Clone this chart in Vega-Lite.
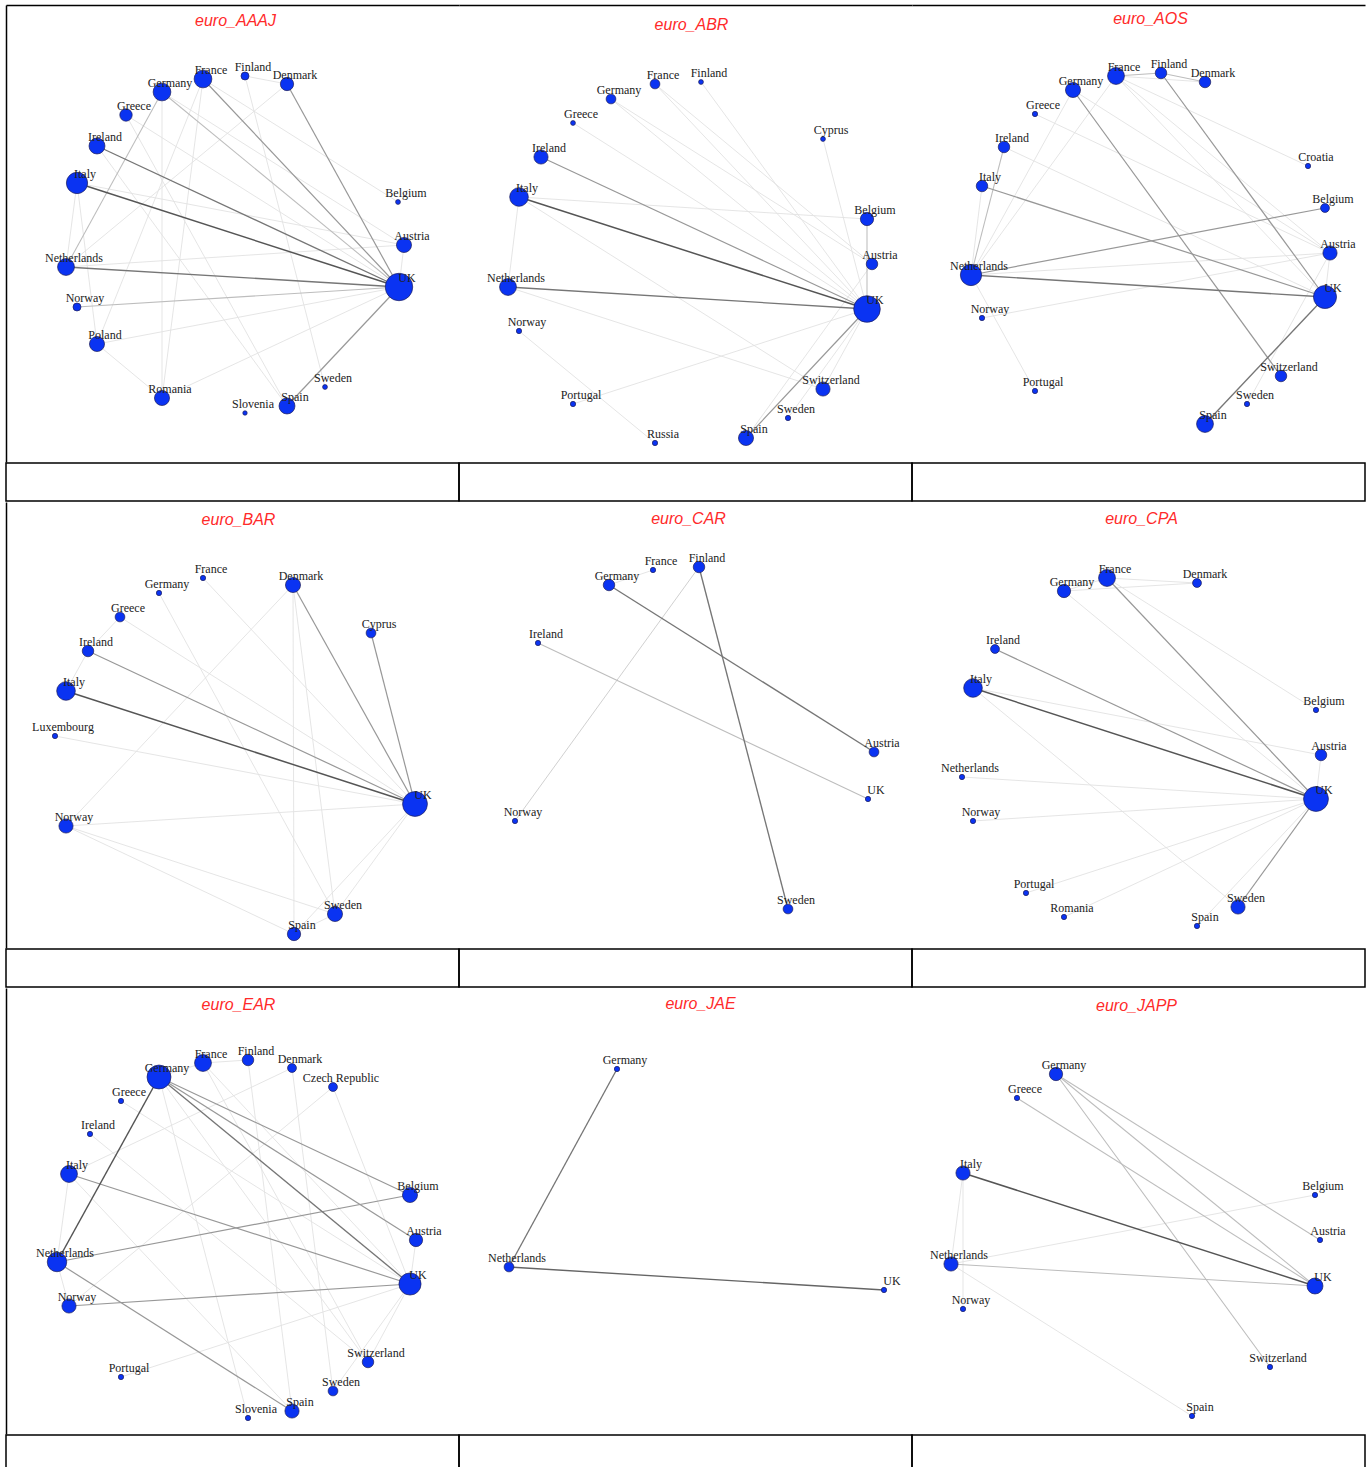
{
"$schema":"https://vega.github.io/schema/vega-lite/v6.json",
"padding":{"left":5,"top":5,"right":3,"bottom":0},
"background":"white",
"config":{"view":{"stroke":null},"concat":{"spacing":0},
"axis":{"ticks":false,"labels":false,"grid":false,"minExtent":0,"maxExtent":0,"domainColor":"black","domainWidth":1.5,"titleColor":"#ff2a2a","titleFont":"Liberation Sans","titleFontStyle":"italic","titleFontWeight":"normal","titleFontSize":16,"titleBaseline":"middle","titleAlign":"center","titleAngle":0}},
"datasets":{
"nodes":[
{"p":"AAAJ","n":"France","id":"AAAJ|France","x":197,"y":74,"d":20},
{"p":"AAAJ","n":"Finland","id":"AAAJ|Finland","x":239,"y":71,"d":9},
{"p":"AAAJ","n":"Denmark","id":"AAAJ|Denmark","x":281,"y":79,"d":15},
{"p":"AAAJ","n":"Germany","id":"AAAJ|Germany","x":156,"y":87,"d":20},
{"p":"AAAJ","n":"Greece","id":"AAAJ|Greece","x":120,"y":110,"d":14},
{"p":"AAAJ","n":"Ireland","id":"AAAJ|Ireland","x":91,"y":141,"d":18},
{"p":"AAAJ","n":"Italy","id":"AAAJ|Italy","x":71,"y":178,"d":24},
{"p":"AAAJ","n":"Belgium","id":"AAAJ|Belgium","x":392,"y":197,"d":5.5},
{"p":"AAAJ","n":"Austria","id":"AAAJ|Austria","x":398,"y":240,"d":17},
{"p":"AAAJ","n":"Netherlands","id":"AAAJ|Netherlands","x":60,"y":262,"d":19},
{"p":"AAAJ","n":"UK","id":"AAAJ|UK","x":393,"y":282,"d":31},
{"p":"AAAJ","n":"Norway","id":"AAAJ|Norway","x":71,"y":302,"d":9},
{"p":"AAAJ","n":"Poland","id":"AAAJ|Poland","x":91,"y":339,"d":17},
{"p":"AAAJ","n":"Romania","id":"AAAJ|Romania","x":156,"y":393,"d":17},
{"p":"AAAJ","n":"Sweden","id":"AAAJ|Sweden","x":319,"y":382,"d":5.5},
{"p":"AAAJ","n":"Slovenia","id":"AAAJ|Slovenia","x":239,"y":408,"d":5},
{"p":"AAAJ","n":"Spain","id":"AAAJ|Spain","x":281,"y":401,"d":18},

{"p":"ABR","n":"France","id":"ABR|France","x":196,"y":79,"d":11},
{"p":"ABR","n":"Finland","id":"ABR|Finland","x":242,"y":77,"d":5.5},
{"p":"ABR","n":"Germany","id":"ABR|Germany","x":152,"y":94,"d":11},
{"p":"ABR","n":"Greece","id":"ABR|Greece","x":114,"y":118,"d":5.5},
{"p":"ABR","n":"Cyprus","id":"ABR|Cyprus","x":364,"y":134,"d":5.5},
{"p":"ABR","n":"Ireland","id":"ABR|Ireland","x":82,"y":152,"d":16},
{"p":"ABR","n":"Italy","id":"ABR|Italy","x":60,"y":192,"d":21},
{"p":"ABR","n":"Belgium","id":"ABR|Belgium","x":408,"y":214,"d":15},
{"p":"ABR","n":"Austria","id":"ABR|Austria","x":413,"y":259,"d":13},
{"p":"ABR","n":"Netherlands","id":"ABR|Netherlands","x":49,"y":282,"d":19},
{"p":"ABR","n":"UK","id":"ABR|UK","x":408,"y":304,"d":30},
{"p":"ABR","n":"Norway","id":"ABR|Norway","x":60,"y":326,"d":6},
{"p":"ABR","n":"Switzerland","id":"ABR|Switzerland","x":364,"y":384,"d":16},
{"p":"ABR","n":"Portugal","id":"ABR|Portugal","x":114,"y":399,"d":6},
{"p":"ABR","n":"Sweden","id":"ABR|Sweden","x":329,"y":413,"d":6},
{"p":"ABR","n":"Russia","id":"ABR|Russia","x":196,"y":438,"d":6},
{"p":"ABR","n":"Spain","id":"ABR|Spain","x":287,"y":433,"d":17},

{"p":"AOS","n":"France","id":"AOS|France","x":204,"y":71,"d":19},
{"p":"AOS","n":"Finland","id":"AOS|Finland","x":249,"y":68,"d":13},
{"p":"AOS","n":"Denmark","id":"AOS|Denmark","x":293,"y":77,"d":13},
{"p":"AOS","n":"Germany","id":"AOS|Germany","x":161,"y":85,"d":17},
{"p":"AOS","n":"Greece","id":"AOS|Greece","x":123,"y":109,"d":6},
{"p":"AOS","n":"Ireland","id":"AOS|Ireland","x":92,"y":142,"d":13},
{"p":"AOS","n":"Italy","id":"AOS|Italy","x":70,"y":181,"d":13},
{"p":"AOS","n":"Croatia","id":"AOS|Croatia","x":396,"y":161,"d":6},
{"p":"AOS","n":"Belgium","id":"AOS|Belgium","x":413,"y":203,"d":10},
{"p":"AOS","n":"Austria","id":"AOS|Austria","x":418,"y":248,"d":16},
{"p":"AOS","n":"Netherlands","id":"AOS|Netherlands","x":59,"y":270,"d":24},
{"p":"AOS","n":"UK","id":"AOS|UK","x":413,"y":292,"d":26},
{"p":"AOS","n":"Norway","id":"AOS|Norway","x":70,"y":313,"d":6},
{"p":"AOS","n":"Switzerland","id":"AOS|Switzerland","x":369,"y":371,"d":13},
{"p":"AOS","n":"Portugal","id":"AOS|Portugal","x":123,"y":386,"d":6},
{"p":"AOS","n":"Sweden","id":"AOS|Sweden","x":335,"y":399,"d":6},
{"p":"AOS","n":"Spain","id":"AOS|Spain","x":293,"y":419,"d":19},

{"p":"BAR","n":"France","id":"BAR|France","x":197,"y":76,"d":6},
{"p":"BAR","n":"Germany","id":"BAR|Germany","x":153,"y":91,"d":6},
{"p":"BAR","n":"Denmark","id":"BAR|Denmark","x":287,"y":83,"d":17},
{"p":"BAR","n":"Greece","id":"BAR|Greece","x":114,"y":115,"d":11},
{"p":"BAR","n":"Cyprus","id":"BAR|Cyprus","x":365,"y":131,"d":11},
{"p":"BAR","n":"Ireland","id":"BAR|Ireland","x":82,"y":149,"d":13},
{"p":"BAR","n":"Italy","id":"BAR|Italy","x":60,"y":189,"d":21},
{"p":"BAR","n":"Luxembourg","id":"BAR|Luxembourg","x":49,"y":234,"d":6},
{"p":"BAR","n":"UK","id":"BAR|UK","x":409,"y":302,"d":28},
{"p":"BAR","n":"Norway","id":"BAR|Norway","x":60,"y":324,"d":16},
{"p":"BAR","n":"Sweden","id":"BAR|Sweden","x":329,"y":412,"d":17},
{"p":"BAR","n":"Spain","id":"BAR|Spain","x":288,"y":432,"d":15},

{"p":"CAR","n":"France","id":"CAR|France","x":194,"y":68,"d":6},
{"p":"CAR","n":"Finland","id":"CAR|Finland","x":240,"y":65,"d":13},
{"p":"CAR","n":"Germany","id":"CAR|Germany","x":150,"y":83,"d":13},
{"p":"CAR","n":"Ireland","id":"CAR|Ireland","x":79,"y":141,"d":6},
{"p":"CAR","n":"Austria","id":"CAR|Austria","x":415,"y":250,"d":11},
{"p":"CAR","n":"UK","id":"CAR|UK","x":409,"y":297,"d":6},
{"p":"CAR","n":"Norway","id":"CAR|Norway","x":56,"y":319,"d":6},
{"p":"CAR","n":"Sweden","id":"CAR|Sweden","x":329,"y":407,"d":11},

{"p":"CPA","n":"France","id":"CPA|France","x":195,"y":76,"d":19},
{"p":"CPA","n":"Germany","id":"CPA|Germany","x":152,"y":89,"d":15},
{"p":"CPA","n":"Denmark","id":"CPA|Denmark","x":285,"y":81,"d":10},
{"p":"CPA","n":"Ireland","id":"CPA|Ireland","x":83,"y":147,"d":10},
{"p":"CPA","n":"Italy","id":"CPA|Italy","x":61,"y":186,"d":21},
{"p":"CPA","n":"Belgium","id":"CPA|Belgium","x":404,"y":208,"d":6},
{"p":"CPA","n":"Austria","id":"CPA|Austria","x":409,"y":253,"d":13},
{"p":"CPA","n":"Netherlands","id":"CPA|Netherlands","x":50,"y":275,"d":6},
{"p":"CPA","n":"UK","id":"CPA|UK","x":404,"y":297,"d":28},
{"p":"CPA","n":"Norway","id":"CPA|Norway","x":61,"y":319,"d":6},
{"p":"CPA","n":"Portugal","id":"CPA|Portugal","x":114,"y":391,"d":6},
{"p":"CPA","n":"Romania","id":"CPA|Romania","x":152,"y":415,"d":6},
{"p":"CPA","n":"Sweden","id":"CPA|Sweden","x":326,"y":405,"d":16},
{"p":"CPA","n":"Spain","id":"CPA|Spain","x":285,"y":424,"d":6},

{"p":"EAR","n":"France","id":"EAR|France","x":197,"y":75,"d":19},
{"p":"EAR","n":"Finland","id":"EAR|Finland","x":242,"y":72,"d":13},
{"p":"EAR","n":"Denmark","id":"EAR|Denmark","x":286,"y":80,"d":10},
{"p":"EAR","n":"Czech Republic","id":"EAR|Czech Republic","x":327,"y":99,"d":10},
{"p":"EAR","n":"Germany","id":"EAR|Germany","x":153,"y":89,"d":27},
{"p":"EAR","n":"Greece","id":"EAR|Greece","x":115,"y":113,"d":6},
{"p":"EAR","n":"Ireland","id":"EAR|Ireland","x":84,"y":146,"d":6},
{"p":"EAR","n":"Italy","id":"EAR|Italy","x":63,"y":186,"d":19},
{"p":"EAR","n":"Belgium","id":"EAR|Belgium","x":404,"y":207,"d":17},
{"p":"EAR","n":"Austria","id":"EAR|Austria","x":410,"y":252,"d":15},
{"p":"EAR","n":"Netherlands","id":"EAR|Netherlands","x":51,"y":274,"d":22},
{"p":"EAR","n":"UK","id":"EAR|UK","x":404,"y":296,"d":25},
{"p":"EAR","n":"Norway","id":"EAR|Norway","x":63,"y":318,"d":16},
{"p":"EAR","n":"Switzerland","id":"EAR|Switzerland","x":362,"y":374,"d":13},
{"p":"EAR","n":"Portugal","id":"EAR|Portugal","x":115,"y":389,"d":6},
{"p":"EAR","n":"Sweden","id":"EAR|Sweden","x":327,"y":403,"d":11},
{"p":"EAR","n":"Slovenia","id":"EAR|Slovenia","x":242,"y":430,"d":6},
{"p":"EAR","n":"Spain","id":"EAR|Spain","x":286,"y":423,"d":16},

{"p":"JAE","n":"Germany","id":"JAE|Germany","x":158,"y":81,"d":6},
{"p":"JAE","n":"Netherlands","id":"JAE|Netherlands","x":50,"y":279,"d":11},
{"p":"JAE","n":"UK","id":"JAE|UK","x":425,"y":302,"d":6},

{"p":"JAPP","n":"Germany","id":"JAPP|Germany","x":144,"y":86,"d":15},
{"p":"JAPP","n":"Greece","id":"JAPP|Greece","x":105,"y":110,"d":6},
{"p":"JAPP","n":"Italy","id":"JAPP|Italy","x":51,"y":185,"d":16},
{"p":"JAPP","n":"Belgium","id":"JAPP|Belgium","x":403,"y":207,"d":6},
{"p":"JAPP","n":"Austria","id":"JAPP|Austria","x":408,"y":252,"d":6},
{"p":"JAPP","n":"Netherlands","id":"JAPP|Netherlands","x":39,"y":276,"d":16},
{"p":"JAPP","n":"UK","id":"JAPP|UK","x":403,"y":298,"d":18},
{"p":"JAPP","n":"Norway","id":"JAPP|Norway","x":51,"y":321,"d":6},
{"p":"JAPP","n":"Switzerland","id":"JAPP|Switzerland","x":358,"y":379,"d":6},
{"p":"JAPP","n":"Spain","id":"JAPP|Spain","x":280,"y":428,"d":6}
],
"edges":[
{"p":"AAAJ","s":"AAAJ|Germany","t":"AAAJ|Romania","w":1},
{"p":"AAAJ","s":"AAAJ|France","t":"AAAJ|Romania","w":1},
{"p":"AAAJ","s":"AAAJ|France","t":"AAAJ|Poland","w":1},
{"p":"AAAJ","s":"AAAJ|Denmark","t":"AAAJ|Netherlands","w":1},
{"p":"AAAJ","s":"AAAJ|Finland","t":"AAAJ|Sweden","w":1},
{"p":"AAAJ","s":"AAAJ|Finland","t":"AAAJ|Denmark","w":1},
{"p":"AAAJ","s":"AAAJ|Greece","t":"AAAJ|Spain","w":1},
{"p":"AAAJ","s":"AAAJ|Ireland","t":"AAAJ|Spain","w":1},
{"p":"AAAJ","s":"AAAJ|Italy","t":"AAAJ|Austria","w":1},
{"p":"AAAJ","s":"AAAJ|Italy","t":"AAAJ|Poland","w":1},
{"p":"AAAJ","s":"AAAJ|Poland","t":"AAAJ|UK","w":1},
{"p":"AAAJ","s":"AAAJ|Romania","t":"AAAJ|UK","w":1},
{"p":"AAAJ","s":"AAAJ|Poland","t":"AAAJ|Romania","w":1},
{"p":"AAAJ","s":"AAAJ|Greece","t":"AAAJ|UK","w":1},
{"p":"AAAJ","s":"AAAJ|France","t":"AAAJ|Belgium","w":1},
{"p":"AAAJ","s":"AAAJ|Austria","t":"AAAJ|UK","w":1},
{"p":"AAAJ","s":"AAAJ|Netherlands","t":"AAAJ|Austria","w":1},
{"p":"AAAJ","s":"AAAJ|Germany","t":"AAAJ|Austria","w":1},
{"p":"AAAJ","s":"AAAJ|Italy","t":"AAAJ|Netherlands","w":1},
{"p":"AAAJ","s":"AAAJ|Germany","t":"AAAJ|Netherlands","w":2},
{"p":"AAAJ","s":"AAAJ|Norway","t":"AAAJ|UK","w":2},
{"p":"AAAJ","s":"AAAJ|Germany","t":"AAAJ|UK","w":2},
{"p":"AAAJ","s":"AAAJ|France","t":"AAAJ|UK","w":3},
{"p":"AAAJ","s":"AAAJ|Denmark","t":"AAAJ|UK","w":3},
{"p":"AAAJ","s":"AAAJ|Spain","t":"AAAJ|UK","w":3},
{"p":"AAAJ","s":"AAAJ|Ireland","t":"AAAJ|UK","w":4},
{"p":"AAAJ","s":"AAAJ|Netherlands","t":"AAAJ|UK","w":4},
{"p":"AAAJ","s":"AAAJ|Italy","t":"AAAJ|UK","w":5},

{"p":"ABR","s":"ABR|Italy","t":"ABR|Belgium","w":1},
{"p":"ABR","s":"ABR|Italy","t":"ABR|Netherlands","w":1},
{"p":"ABR","s":"ABR|Italy","t":"ABR|Switzerland","w":1},
{"p":"ABR","s":"ABR|Netherlands","t":"ABR|Switzerland","w":1},
{"p":"ABR","s":"ABR|Germany","t":"ABR|UK","w":1},
{"p":"ABR","s":"ABR|Germany","t":"ABR|Austria","w":1},
{"p":"ABR","s":"ABR|France","t":"ABR|UK","w":1},
{"p":"ABR","s":"ABR|France","t":"ABR|Austria","w":1},
{"p":"ABR","s":"ABR|Finland","t":"ABR|UK","w":1},
{"p":"ABR","s":"ABR|Greece","t":"ABR|UK","w":1},
{"p":"ABR","s":"ABR|Cyprus","t":"ABR|UK","w":1},
{"p":"ABR","s":"ABR|Austria","t":"ABR|Spain","w":1},
{"p":"ABR","s":"ABR|UK","t":"ABR|Switzerland","w":1},
{"p":"ABR","s":"ABR|UK","t":"ABR|Sweden","w":1},
{"p":"ABR","s":"ABR|Portugal","t":"ABR|UK","w":1},
{"p":"ABR","s":"ABR|Norway","t":"ABR|Russia","w":1},
{"p":"ABR","s":"ABR|Belgium","t":"ABR|UK","w":2},
{"p":"ABR","s":"ABR|Ireland","t":"ABR|UK","w":3},
{"p":"ABR","s":"ABR|Spain","t":"ABR|UK","w":3},
{"p":"ABR","s":"ABR|Netherlands","t":"ABR|UK","w":4},
{"p":"ABR","s":"ABR|Italy","t":"ABR|UK","w":5},

{"p":"AOS","s":"AOS|France","t":"AOS|Denmark","w":1},
{"p":"AOS","s":"AOS|France","t":"AOS|UK","w":1},
{"p":"AOS","s":"AOS|France","t":"AOS|Austria","w":1},
{"p":"AOS","s":"AOS|France","t":"AOS|Croatia","w":1},
{"p":"AOS","s":"AOS|France","t":"AOS|Netherlands","w":1},
{"p":"AOS","s":"AOS|Germany","t":"AOS|Netherlands","w":1},
{"p":"AOS","s":"AOS|Germany","t":"AOS|Austria","w":1},
{"p":"AOS","s":"AOS|Greece","t":"AOS|Austria","w":1},
{"p":"AOS","s":"AOS|Ireland","t":"AOS|UK","w":1},
{"p":"AOS","s":"AOS|Italy","t":"AOS|Netherlands","w":1},
{"p":"AOS","s":"AOS|Netherlands","t":"AOS|Austria","w":1},
{"p":"AOS","s":"AOS|Norway","t":"AOS|Austria","w":1},
{"p":"AOS","s":"AOS|Netherlands","t":"AOS|Portugal","w":1},
{"p":"AOS","s":"AOS|Austria","t":"AOS|Sweden","w":1},
{"p":"AOS","s":"AOS|UK","t":"AOS|Austria","w":1},
{"p":"AOS","s":"AOS|Ireland","t":"AOS|Netherlands","w":2},
{"p":"AOS","s":"AOS|France","t":"AOS|Finland","w":2},
{"p":"AOS","s":"AOS|Finland","t":"AOS|Denmark","w":2},
{"p":"AOS","s":"AOS|Germany","t":"AOS|Switzerland","w":3},
{"p":"AOS","s":"AOS|Finland","t":"AOS|UK","w":3},
{"p":"AOS","s":"AOS|Italy","t":"AOS|UK","w":3},
{"p":"AOS","s":"AOS|Netherlands","t":"AOS|Belgium","w":3},
{"p":"AOS","s":"AOS|Netherlands","t":"AOS|UK","w":4},
{"p":"AOS","s":"AOS|UK","t":"AOS|Spain","w":4},

{"p":"BAR","s":"BAR|Greece","t":"BAR|Ireland","w":1},
{"p":"BAR","s":"BAR|Ireland","t":"BAR|Italy","w":1},
{"p":"BAR","s":"BAR|Greece","t":"BAR|UK","w":1},
{"p":"BAR","s":"BAR|France","t":"BAR|UK","w":1},
{"p":"BAR","s":"BAR|Germany","t":"BAR|Sweden","w":1},
{"p":"BAR","s":"BAR|Denmark","t":"BAR|Spain","w":1},
{"p":"BAR","s":"BAR|Denmark","t":"BAR|Sweden","w":1},
{"p":"BAR","s":"BAR|Denmark","t":"BAR|Norway","w":1},
{"p":"BAR","s":"BAR|Luxembourg","t":"BAR|UK","w":1},
{"p":"BAR","s":"BAR|Norway","t":"BAR|UK","w":1},
{"p":"BAR","s":"BAR|Norway","t":"BAR|Sweden","w":1},
{"p":"BAR","s":"BAR|Norway","t":"BAR|Spain","w":1},
{"p":"BAR","s":"BAR|UK","t":"BAR|Sweden","w":1},
{"p":"BAR","s":"BAR|UK","t":"BAR|Spain","w":1},
{"p":"BAR","s":"BAR|Sweden","t":"BAR|Spain","w":1},
{"p":"BAR","s":"BAR|Ireland","t":"BAR|UK","w":3},
{"p":"BAR","s":"BAR|Denmark","t":"BAR|UK","w":3},
{"p":"BAR","s":"BAR|Cyprus","t":"BAR|UK","w":3},
{"p":"BAR","s":"BAR|Italy","t":"BAR|UK","w":5},

{"p":"CAR","s":"CAR|Germany","t":"CAR|France","w":1},
{"p":"CAR","s":"CAR|Finland","t":"CAR|Norway","w":1.5},
{"p":"CAR","s":"CAR|Ireland","t":"CAR|UK","w":2},
{"p":"CAR","s":"CAR|Germany","t":"CAR|Austria","w":4},
{"p":"CAR","s":"CAR|Finland","t":"CAR|Sweden","w":4},

{"p":"CPA","s":"CPA|France","t":"CPA|Denmark","w":1},
{"p":"CPA","s":"CPA|Germany","t":"CPA|Denmark","w":1},
{"p":"CPA","s":"CPA|Germany","t":"CPA|France","w":1},
{"p":"CPA","s":"CPA|Germany","t":"CPA|UK","w":1},
{"p":"CPA","s":"CPA|France","t":"CPA|Belgium","w":1},
{"p":"CPA","s":"CPA|Italy","t":"CPA|Austria","w":1},
{"p":"CPA","s":"CPA|Italy","t":"CPA|Sweden","w":1},
{"p":"CPA","s":"CPA|Netherlands","t":"CPA|UK","w":1},
{"p":"CPA","s":"CPA|Norway","t":"CPA|UK","w":1},
{"p":"CPA","s":"CPA|Portugal","t":"CPA|UK","w":1},
{"p":"CPA","s":"CPA|Romania","t":"CPA|UK","w":1},
{"p":"CPA","s":"CPA|Spain","t":"CPA|UK","w":1},
{"p":"CPA","s":"CPA|Austria","t":"CPA|UK","w":1},
{"p":"CPA","s":"CPA|France","t":"CPA|UK","w":3},
{"p":"CPA","s":"CPA|Ireland","t":"CPA|UK","w":3},
{"p":"CPA","s":"CPA|Sweden","t":"CPA|UK","w":3},
{"p":"CPA","s":"CPA|Italy","t":"CPA|UK","w":5},

{"p":"EAR","s":"EAR|Germany","t":"EAR|Switzerland","w":1},
{"p":"EAR","s":"EAR|Germany","t":"EAR|Slovenia","w":1},
{"p":"EAR","s":"EAR|Germany","t":"EAR|France","w":1},
{"p":"EAR","s":"EAR|France","t":"EAR|Finland","w":1},
{"p":"EAR","s":"EAR|Portugal","t":"EAR|UK","w":1},
{"p":"EAR","s":"EAR|Czech Republic","t":"EAR|Norway","w":1},
{"p":"EAR","s":"EAR|Denmark","t":"EAR|Italy","w":1},
{"p":"EAR","s":"EAR|Finland","t":"EAR|Spain","w":1},
{"p":"EAR","s":"EAR|Denmark","t":"EAR|Sweden","w":1},
{"p":"EAR","s":"EAR|Czech Republic","t":"EAR|UK","w":1},
{"p":"EAR","s":"EAR|France","t":"EAR|UK","w":1},
{"p":"EAR","s":"EAR|France","t":"EAR|Switzerland","w":1},
{"p":"EAR","s":"EAR|Italy","t":"EAR|Spain","w":1},
{"p":"EAR","s":"EAR|Italy","t":"EAR|Netherlands","w":1},
{"p":"EAR","s":"EAR|Greece","t":"EAR|UK","w":1},
{"p":"EAR","s":"EAR|Ireland","t":"EAR|Switzerland","w":1},
{"p":"EAR","s":"EAR|UK","t":"EAR|Switzerland","w":1},
{"p":"EAR","s":"EAR|UK","t":"EAR|Sweden","w":1},
{"p":"EAR","s":"EAR|UK","t":"EAR|Austria","w":1},
{"p":"EAR","s":"EAR|Netherlands","t":"EAR|Norway","w":1},
{"p":"EAR","s":"EAR|Germany","t":"EAR|Austria","w":3},
{"p":"EAR","s":"EAR|Germany","t":"EAR|Belgium","w":3},
{"p":"EAR","s":"EAR|Italy","t":"EAR|UK","w":3},
{"p":"EAR","s":"EAR|Netherlands","t":"EAR|Belgium","w":3},
{"p":"EAR","s":"EAR|Netherlands","t":"EAR|Spain","w":3},
{"p":"EAR","s":"EAR|Norway","t":"EAR|UK","w":3},
{"p":"EAR","s":"EAR|Germany","t":"EAR|UK","w":4},
{"p":"EAR","s":"EAR|Germany","t":"EAR|Netherlands","w":5},

{"p":"JAE","s":"JAE|Germany","t":"JAE|Netherlands","w":4},
{"p":"JAE","s":"JAE|Netherlands","t":"JAE|UK","w":4.5},

{"p":"JAPP","s":"JAPP|Italy","t":"JAPP|Netherlands","w":1},
{"p":"JAPP","s":"JAPP|Italy","t":"JAPP|Norway","w":1},
{"p":"JAPP","s":"JAPP|Netherlands","t":"JAPP|Belgium","w":1},
{"p":"JAPP","s":"JAPP|Netherlands","t":"JAPP|Spain","w":1},
{"p":"JAPP","s":"JAPP|Germany","t":"JAPP|UK","w":2},
{"p":"JAPP","s":"JAPP|Germany","t":"JAPP|Austria","w":2},
{"p":"JAPP","s":"JAPP|Germany","t":"JAPP|Switzerland","w":2},
{"p":"JAPP","s":"JAPP|Greece","t":"JAPP|UK","w":2},
{"p":"JAPP","s":"JAPP|Netherlands","t":"JAPP|UK","w":2},
{"p":"JAPP","s":"JAPP|Italy","t":"JAPP|UK","w":5}
]
},
"resolve":{"scale":{"x":"independent","y":"independent"}},
"spacing":0,
"vconcat":[
{"hconcat":[
{"width":453,"height":457,
"encoding":{"x":{"field":"x","type":"quantitative","scale":{"domain":[0,453],"nice":false,"zero":false},"axis":{"orient":"top","domain":true,"title":"euro_AAAJ","titleX":229,"titleY":15}},
"y":{"field":"y","type":"quantitative","scale":{"domain":[0,457],"nice":false,"zero":false,"reverse":true},"axis":{"orient":"left","domain":true,"title":null}}},
"layer":[
{"data":{"name":"edges"},"transform":[{"filter":"datum.p==='AAAJ'"},{"lookup":"s","from":{"data":{"name":"nodes"},"key":"id","fields":["x","y"]},"as":["x","y"]},{"lookup":"t","from":{"data":{"name":"nodes"},"key":"id","fields":["x","y"]},"as":["x2","y2"]}],"mark":{"type":"rule"},"encoding":{"x2":{"field":"x2"},"y2":{"field":"y2"},"color":{"field":"w","type":"quantitative","scale":{"domain":[1,5],"range":["#e2e2e2","#555555"]},"legend":null},"strokeWidth":{"field":"w","type":"quantitative","scale":{"domain":[1,5],"range":[0.9,1.5]},"legend":null}}},
{"data":{"name":"nodes"},"transform":[{"filter":"datum.p==='AAAJ'"}],"mark":{"type":"circle","color":"#0a33f2","opacity":1,"stroke":"#20205a","strokeWidth":0.7},"encoding":{"size":{"field":"d","type":"quantitative","scale":{"type":"pow","exponent":2,"domain":[0,32],"range":[0,804]},"legend":null}}},
{"data":{"name":"nodes"},"transform":[{"filter":"datum.p==='AAAJ'"}],"mark":{"type":"text","font":"Liberation Serif","fontSize":12,"dx":8,"dy":-9,"color":"#222222"},"encoding":{"text":{"field":"n"}}}
]},
{"width":453,"height":457,
"encoding":{"x":{"field":"x","type":"quantitative","scale":{"domain":[0,453],"nice":false,"zero":false},"axis":{"orient":"top","domain":true,"title":"euro_ABR","titleX":232,"titleY":19}},
"y":{"field":"y","type":"quantitative","scale":{"domain":[0,457],"nice":false,"zero":false,"reverse":true},"axis":null}},
"layer":[
{"data":{"name":"edges"},"transform":[{"filter":"datum.p==='ABR'"},{"lookup":"s","from":{"data":{"name":"nodes"},"key":"id","fields":["x","y"]},"as":["x","y"]},{"lookup":"t","from":{"data":{"name":"nodes"},"key":"id","fields":["x","y"]},"as":["x2","y2"]}],"mark":{"type":"rule"},"encoding":{"x2":{"field":"x2"},"y2":{"field":"y2"},"color":{"field":"w","type":"quantitative","scale":{"domain":[1,5],"range":["#e2e2e2","#555555"]},"legend":null},"strokeWidth":{"field":"w","type":"quantitative","scale":{"domain":[1,5],"range":[0.9,1.5]},"legend":null}}},
{"data":{"name":"nodes"},"transform":[{"filter":"datum.p==='ABR'"}],"mark":{"type":"circle","color":"#0a33f2","opacity":1,"stroke":"#20205a","strokeWidth":0.7},"encoding":{"size":{"field":"d","type":"quantitative","scale":{"type":"pow","exponent":2,"domain":[0,32],"range":[0,804]},"legend":null}}},
{"data":{"name":"nodes"},"transform":[{"filter":"datum.p==='ABR'"}],"mark":{"type":"text","font":"Liberation Serif","fontSize":12,"dx":8,"dy":-9,"color":"#222222"},"encoding":{"text":{"field":"n"}}}
]},
{"width":453,"height":457,
"encoding":{"x":{"field":"x","type":"quantitative","scale":{"domain":[0,453],"nice":false,"zero":false},"axis":{"orient":"top","domain":true,"title":"euro_AOS","titleX":238,"titleY":13}},
"y":{"field":"y","type":"quantitative","scale":{"domain":[0,457],"nice":false,"zero":false,"reverse":true},"axis":null}},
"layer":[
{"data":{"name":"edges"},"transform":[{"filter":"datum.p==='AOS'"},{"lookup":"s","from":{"data":{"name":"nodes"},"key":"id","fields":["x","y"]},"as":["x","y"]},{"lookup":"t","from":{"data":{"name":"nodes"},"key":"id","fields":["x","y"]},"as":["x2","y2"]}],"mark":{"type":"rule"},"encoding":{"x2":{"field":"x2"},"y2":{"field":"y2"},"color":{"field":"w","type":"quantitative","scale":{"domain":[1,5],"range":["#e2e2e2","#555555"]},"legend":null},"strokeWidth":{"field":"w","type":"quantitative","scale":{"domain":[1,5],"range":[0.9,1.5]},"legend":null}}},
{"data":{"name":"nodes"},"transform":[{"filter":"datum.p==='AOS'"}],"mark":{"type":"circle","color":"#0a33f2","opacity":1,"stroke":"#20205a","strokeWidth":0.7},"encoding":{"size":{"field":"d","type":"quantitative","scale":{"type":"pow","exponent":2,"domain":[0,32],"range":[0,804]},"legend":null}}},
{"data":{"name":"nodes"},"transform":[{"filter":"datum.p==='AOS'"}],"mark":{"type":"text","font":"Liberation Serif","fontSize":12,"dx":8,"dy":-9,"color":"#222222"},"encoding":{"text":{"field":"n"}}}
]}
],"spacing":0,"bounds":"flush"},
{"hconcat":[
{"width":453,"height":38,"view":{"stroke":"black","strokeWidth":1.5},"data":{"values":[{"a":1}]},"mark":{"type":"text"},"encoding":{"text":{"value":""}}},
{"width":453,"height":38,"view":{"stroke":"black","strokeWidth":1.5},"data":{"values":[{"a":1}]},"mark":{"type":"text"},"encoding":{"text":{"value":""}}},
{"width":453,"height":38,"view":{"stroke":"black","strokeWidth":1.5},"data":{"values":[{"a":1}]},"mark":{"type":"text"},"encoding":{"text":{"value":""}}}
],"spacing":0,"bounds":"flush"},
{"hconcat":[
{"width":453,"height":446,
"encoding":{"x":{"field":"x","type":"quantitative","scale":{"domain":[0,453],"nice":false,"zero":false},"axis":{"orient":"top","domain":false,"title":"euro_BAR","titleX":232,"titleY":17}},
"y":{"field":"y","type":"quantitative","scale":{"domain":[0,446],"nice":false,"zero":false,"reverse":true},"axis":{"orient":"left","domain":true,"title":null}}},
"layer":[
{"data":{"name":"edges"},"transform":[{"filter":"datum.p==='BAR'"},{"lookup":"s","from":{"data":{"name":"nodes"},"key":"id","fields":["x","y"]},"as":["x","y"]},{"lookup":"t","from":{"data":{"name":"nodes"},"key":"id","fields":["x","y"]},"as":["x2","y2"]}],"mark":{"type":"rule"},"encoding":{"x2":{"field":"x2"},"y2":{"field":"y2"},"color":{"field":"w","type":"quantitative","scale":{"domain":[1,5],"range":["#e2e2e2","#555555"]},"legend":null},"strokeWidth":{"field":"w","type":"quantitative","scale":{"domain":[1,5],"range":[0.9,1.5]},"legend":null}}},
{"data":{"name":"nodes"},"transform":[{"filter":"datum.p==='BAR'"}],"mark":{"type":"circle","color":"#0a33f2","opacity":1,"stroke":"#20205a","strokeWidth":0.7},"encoding":{"size":{"field":"d","type":"quantitative","scale":{"type":"pow","exponent":2,"domain":[0,32],"range":[0,804]},"legend":null}}},
{"data":{"name":"nodes"},"transform":[{"filter":"datum.p==='BAR'"}],"mark":{"type":"text","font":"Liberation Serif","fontSize":12,"dx":8,"dy":-9,"color":"#222222"},"encoding":{"text":{"field":"n"}}}
]},
{"width":453,"height":446,
"encoding":{"x":{"field":"x","type":"quantitative","scale":{"domain":[0,453],"nice":false,"zero":false},"axis":{"orient":"top","domain":false,"title":"euro_CAR","titleX":229,"titleY":16}},
"y":{"field":"y","type":"quantitative","scale":{"domain":[0,446],"nice":false,"zero":false,"reverse":true},"axis":null}},
"layer":[
{"data":{"name":"edges"},"transform":[{"filter":"datum.p==='CAR'"},{"lookup":"s","from":{"data":{"name":"nodes"},"key":"id","fields":["x","y"]},"as":["x","y"]},{"lookup":"t","from":{"data":{"name":"nodes"},"key":"id","fields":["x","y"]},"as":["x2","y2"]}],"mark":{"type":"rule"},"encoding":{"x2":{"field":"x2"},"y2":{"field":"y2"},"color":{"field":"w","type":"quantitative","scale":{"domain":[1,5],"range":["#e2e2e2","#555555"]},"legend":null},"strokeWidth":{"field":"w","type":"quantitative","scale":{"domain":[1,5],"range":[0.9,1.5]},"legend":null}}},
{"data":{"name":"nodes"},"transform":[{"filter":"datum.p==='CAR'"}],"mark":{"type":"circle","color":"#0a33f2","opacity":1,"stroke":"#20205a","strokeWidth":0.7},"encoding":{"size":{"field":"d","type":"quantitative","scale":{"type":"pow","exponent":2,"domain":[0,32],"range":[0,804]},"legend":null}}},
{"data":{"name":"nodes"},"transform":[{"filter":"datum.p==='CAR'"}],"mark":{"type":"text","font":"Liberation Serif","fontSize":12,"dx":8,"dy":-9,"color":"#222222"},"encoding":{"text":{"field":"n"}}}
]},
{"width":453,"height":446,
"encoding":{"x":{"field":"x","type":"quantitative","scale":{"domain":[0,453],"nice":false,"zero":false},"axis":{"orient":"top","domain":false,"title":"euro_CPA","titleX":229,"titleY":16}},
"y":{"field":"y","type":"quantitative","scale":{"domain":[0,446],"nice":false,"zero":false,"reverse":true},"axis":null}},
"layer":[
{"data":{"name":"edges"},"transform":[{"filter":"datum.p==='CPA'"},{"lookup":"s","from":{"data":{"name":"nodes"},"key":"id","fields":["x","y"]},"as":["x","y"]},{"lookup":"t","from":{"data":{"name":"nodes"},"key":"id","fields":["x","y"]},"as":["x2","y2"]}],"mark":{"type":"rule"},"encoding":{"x2":{"field":"x2"},"y2":{"field":"y2"},"color":{"field":"w","type":"quantitative","scale":{"domain":[1,5],"range":["#e2e2e2","#555555"]},"legend":null},"strokeWidth":{"field":"w","type":"quantitative","scale":{"domain":[1,5],"range":[0.9,1.5]},"legend":null}}},
{"data":{"name":"nodes"},"transform":[{"filter":"datum.p==='CPA'"}],"mark":{"type":"circle","color":"#0a33f2","opacity":1,"stroke":"#20205a","strokeWidth":0.7},"encoding":{"size":{"field":"d","type":"quantitative","scale":{"type":"pow","exponent":2,"domain":[0,32],"range":[0,804]},"legend":null}}},
{"data":{"name":"nodes"},"transform":[{"filter":"datum.p==='CPA'"}],"mark":{"type":"text","font":"Liberation Serif","fontSize":12,"dx":8,"dy":-9,"color":"#222222"},"encoding":{"text":{"field":"n"}}}
]}
],"spacing":0,"bounds":"flush"},
{"hconcat":[
{"width":453,"height":38,"view":{"stroke":"black","strokeWidth":1.5},"data":{"values":[{"a":1}]},"mark":{"type":"text"},"encoding":{"text":{"value":""}}},
{"width":453,"height":38,"view":{"stroke":"black","strokeWidth":1.5},"data":{"values":[{"a":1}]},"mark":{"type":"text"},"encoding":{"text":{"value":""}}},
{"width":453,"height":38,"view":{"stroke":"black","strokeWidth":1.5},"data":{"values":[{"a":1}]},"mark":{"type":"text"},"encoding":{"text":{"value":""}}}
],"spacing":0,"bounds":"flush"},
{"hconcat":[
{"width":453,"height":446,
"encoding":{"x":{"field":"x","type":"quantitative","scale":{"domain":[0,453],"nice":false,"zero":false},"axis":{"orient":"top","domain":false,"title":"euro_EAR","titleX":232,"titleY":16}},
"y":{"field":"y","type":"quantitative","scale":{"domain":[0,446],"nice":false,"zero":false,"reverse":true},"axis":{"orient":"left","domain":true,"title":null}}},
"layer":[
{"data":{"name":"edges"},"transform":[{"filter":"datum.p==='EAR'"},{"lookup":"s","from":{"data":{"name":"nodes"},"key":"id","fields":["x","y"]},"as":["x","y"]},{"lookup":"t","from":{"data":{"name":"nodes"},"key":"id","fields":["x","y"]},"as":["x2","y2"]}],"mark":{"type":"rule"},"encoding":{"x2":{"field":"x2"},"y2":{"field":"y2"},"color":{"field":"w","type":"quantitative","scale":{"domain":[1,5],"range":["#e2e2e2","#555555"]},"legend":null},"strokeWidth":{"field":"w","type":"quantitative","scale":{"domain":[1,5],"range":[0.9,1.5]},"legend":null}}},
{"data":{"name":"nodes"},"transform":[{"filter":"datum.p==='EAR'"}],"mark":{"type":"circle","color":"#0a33f2","opacity":1,"stroke":"#20205a","strokeWidth":0.7},"encoding":{"size":{"field":"d","type":"quantitative","scale":{"type":"pow","exponent":2,"domain":[0,32],"range":[0,804]},"legend":null}}},
{"data":{"name":"nodes"},"transform":[{"filter":"datum.p==='EAR'"}],"mark":{"type":"text","font":"Liberation Serif","fontSize":12,"dx":8,"dy":-9,"color":"#222222"},"encoding":{"text":{"field":"n"}}}
]},
{"width":453,"height":446,
"encoding":{"x":{"field":"x","type":"quantitative","scale":{"domain":[0,453],"nice":false,"zero":false},"axis":{"orient":"top","domain":false,"title":"euro_JAE","titleX":241,"titleY":15}},
"y":{"field":"y","type":"quantitative","scale":{"domain":[0,446],"nice":false,"zero":false,"reverse":true},"axis":null}},
"layer":[
{"data":{"name":"edges"},"transform":[{"filter":"datum.p==='JAE'"},{"lookup":"s","from":{"data":{"name":"nodes"},"key":"id","fields":["x","y"]},"as":["x","y"]},{"lookup":"t","from":{"data":{"name":"nodes"},"key":"id","fields":["x","y"]},"as":["x2","y2"]}],"mark":{"type":"rule"},"encoding":{"x2":{"field":"x2"},"y2":{"field":"y2"},"color":{"field":"w","type":"quantitative","scale":{"domain":[1,5],"range":["#e2e2e2","#555555"]},"legend":null},"strokeWidth":{"field":"w","type":"quantitative","scale":{"domain":[1,5],"range":[0.9,1.5]},"legend":null}}},
{"data":{"name":"nodes"},"transform":[{"filter":"datum.p==='JAE'"}],"mark":{"type":"circle","color":"#0a33f2","opacity":1,"stroke":"#20205a","strokeWidth":0.7},"encoding":{"size":{"field":"d","type":"quantitative","scale":{"type":"pow","exponent":2,"domain":[0,32],"range":[0,804]},"legend":null}}},
{"data":{"name":"nodes"},"transform":[{"filter":"datum.p==='JAE'"}],"mark":{"type":"text","font":"Liberation Serif","fontSize":12,"dx":8,"dy":-9,"color":"#222222"},"encoding":{"text":{"field":"n"}}}
]},
{"width":453,"height":446,
"encoding":{"x":{"field":"x","type":"quantitative","scale":{"domain":[0,453],"nice":false,"zero":false},"axis":{"orient":"top","domain":false,"title":"euro_JAPP","titleX":224,"titleY":17}},
"y":{"field":"y","type":"quantitative","scale":{"domain":[0,446],"nice":false,"zero":false,"reverse":true},"axis":null}},
"layer":[
{"data":{"name":"edges"},"transform":[{"filter":"datum.p==='JAPP'"},{"lookup":"s","from":{"data":{"name":"nodes"},"key":"id","fields":["x","y"]},"as":["x","y"]},{"lookup":"t","from":{"data":{"name":"nodes"},"key":"id","fields":["x","y"]},"as":["x2","y2"]}],"mark":{"type":"rule"},"encoding":{"x2":{"field":"x2"},"y2":{"field":"y2"},"color":{"field":"w","type":"quantitative","scale":{"domain":[1,5],"range":["#e2e2e2","#555555"]},"legend":null},"strokeWidth":{"field":"w","type":"quantitative","scale":{"domain":[1,5],"range":[0.9,1.5]},"legend":null}}},
{"data":{"name":"nodes"},"transform":[{"filter":"datum.p==='JAPP'"}],"mark":{"type":"circle","color":"#0a33f2","opacity":1,"stroke":"#20205a","strokeWidth":0.7},"encoding":{"size":{"field":"d","type":"quantitative","scale":{"type":"pow","exponent":2,"domain":[0,32],"range":[0,804]},"legend":null}}},
{"data":{"name":"nodes"},"transform":[{"filter":"datum.p==='JAPP'"}],"mark":{"type":"text","font":"Liberation Serif","fontSize":12,"dx":8,"dy":-9,"color":"#222222"},"encoding":{"text":{"field":"n"}}}
]}
],"spacing":0,"bounds":"flush"},
{"hconcat":[
{"width":453,"height":37,"view":{"stroke":"black","strokeWidth":1.5},"data":{"values":[{"a":1}]},"mark":{"type":"text"},"encoding":{"text":{"value":""}}},
{"width":453,"height":37,"view":{"stroke":"black","strokeWidth":1.5},"data":{"values":[{"a":1}]},"mark":{"type":"text"},"encoding":{"text":{"value":""}}},
{"width":453,"height":37,"view":{"stroke":"black","strokeWidth":1.5},"data":{"values":[{"a":1}]},"mark":{"type":"text"},"encoding":{"text":{"value":""}}}
],"spacing":0,"bounds":"flush"}
]
}
